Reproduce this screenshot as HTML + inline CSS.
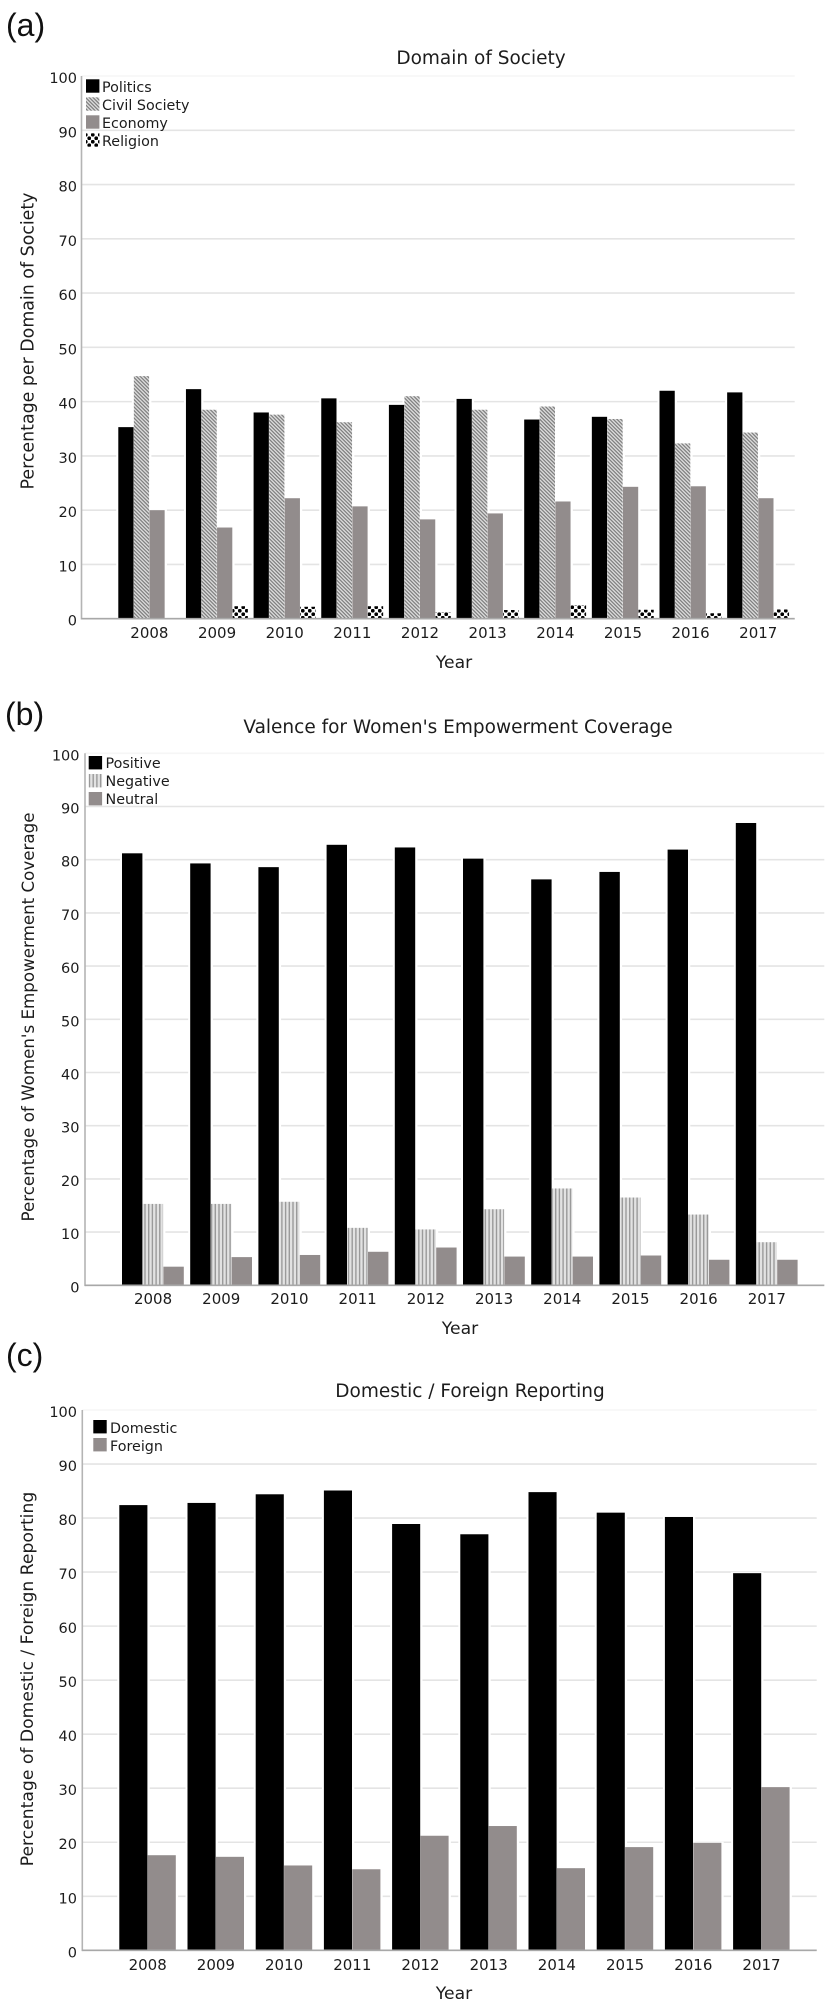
<!DOCTYPE html>
<html lang="en">
<head>
<meta charset="utf-8">
<title>Women's Empowerment Coverage Charts</title>
<style>
html,body{margin:0;padding:0;background:#fff;}
#figure{display:block;width:832px;height:2008px;filter:blur(0.35px);}
text{font-family:"DejaVu Sans","Liberation Sans",sans-serif;fill:#1c1c1c;}
.panel{font-family:"Liberation Sans",sans-serif;font-size:32px;fill:#111;}
.title{font-size:18.5px;text-anchor:middle;}
.axt{font-size:17.2px;text-anchor:middle;}
.leg{font-size:14.3px;}
.tick{font-size:14.5px;}
.xtick{font-size:15px;}
</style>
</head>
<body>
<svg id="figure" xmlns="http://www.w3.org/2000/svg" width="832" height="2008" viewBox="0 0 832 2008">
<defs>
<pattern id="hatch" width="2.6" height="2.6" patternUnits="userSpaceOnUse" patternTransform="rotate(45)">
<rect width="2.6" height="2.6" fill="#dcdcdc"/><rect width="2.6" height="1.2" fill="#7c7c7c"/>
</pattern>
<pattern id="vstripe" width="3.7" height="4" patternUnits="userSpaceOnUse">
<rect width="3.7" height="4" fill="#e2e2e2"/><rect width="1.4" height="4" fill="#9a9a9a"/>
</pattern>
<pattern id="check" width="7" height="7" patternUnits="userSpaceOnUse">
<rect width="7" height="7" fill="#fff"/><circle cx="1.75" cy="1.75" r="1.9" fill="#000"/><circle cx="5.25" cy="5.25" r="1.9" fill="#000"/>
</pattern>
</defs>

<g id="chart-a">
<text class="panel" x="6" y="36">(a)</text>
<text class="title" x="481" y="64">Domain of Society</text>
<text class="axt" style="font-size:17.4px" transform="translate(33.5,341) rotate(-90)">Percentage per Domain of Society</text>
<text class="axt" x="454" y="668">Year</text>
<g id="plot-a"></g>
<g>
<rect x="86" y="79.3" width="13.4" height="13.4" fill="#000"/>
<text class="leg" x="102" y="92">Politics</text>
<rect x="86" y="97.3" width="13.4" height="13.4" fill="url(#hatch)"/>
<text class="leg" x="102" y="110">Civil Society</text>
<rect x="86" y="115.3" width="13.4" height="13.4" fill="#928c8c"/>
<text class="leg" x="102" y="128">Economy</text>
<rect x="86" y="133.3" width="13.4" height="13.4" fill="url(#check)"/>
<text class="leg" x="102" y="146">Religion</text>
</g>
</g>

<g id="chart-b">
<text class="panel" x="5" y="725">(b)</text>
<text class="title" x="458" y="733">Valence for Women's Empowerment Coverage</text>
<text class="axt" style="font-size:16.7px" transform="translate(34,1017) rotate(-90)">Percentage of Women's Empowerment Coverage</text>
<text class="axt" x="460" y="1334">Year</text>
<g id="plot-b"></g>
<g>
<rect x="88.7" y="756" width="13.4" height="13.4" fill="#000"/>
<text class="leg" x="105.5" y="768">Positive</text>
<rect x="88.7" y="774" width="13.4" height="13.4" fill="url(#vstripe)"/>
<text class="leg" x="105.5" y="786">Negative</text>
<rect x="88.7" y="792" width="13.4" height="13.4" fill="#928c8c"/>
<text class="leg" x="105.5" y="804">Neutral</text>
</g>
</g>

<g id="chart-c">
<text class="panel" x="6" y="1366">(c)</text>
<text class="title" x="470" y="1397">Domestic / Foreign Reporting</text>
<text class="axt" transform="translate(33,1679) rotate(-90)">Percentage of Domestic / Foreign Reporting</text>
<text class="axt" x="454" y="1999">Year</text>
<g id="plot-c"></g>
<g>
<rect x="93.3" y="1420" width="13.4" height="13.4" fill="#000"/>
<text class="leg" x="110" y="1433">Domestic</text>
<rect x="93.3" y="1438" width="13.4" height="13.4" fill="#928c8c"/>
<text class="leg" x="110" y="1451">Foreign</text>
</g>
</g>
</svg>

<script>
const years = ['2008','2009','2010','2011','2012','2013','2014','2015','2016','2017'];
const yTicks = [0,10,20,30,40,50,60,70,80,90,100];

const politics = [35.3,42.3,38.0,40.6,39.4,40.5,36.7,37.2,42.0,41.7];
const civilSociety = [44.7,38.5,37.6,36.2,41.0,38.5,39.1,36.8,32.3,34.3];
const economy = [20.0,16.8,22.2,20.7,18.3,19.4,21.6,24.3,24.4,22.2];
const religion = [0,2.3,2.2,2.3,1.2,1.6,2.5,1.65,1.0,1.7];

const positive = [81.2,79.3,78.6,82.8,82.3,80.2,76.3,77.7,81.9,86.9];
const negative = [15.3,15.3,15.7,10.8,10.5,14.3,18.2,16.5,13.3,8.1];
const neutral = [3.5,5.3,5.7,6.3,7.1,5.4,5.4,5.6,4.8,4.8];

const domestic = [82.4,82.8,84.4,85.1,78.9,77.0,84.8,81.0,80.2,69.8];
const foreign = [17.6,17.3,15.7,15.0,21.2,23.0,15.2,19.1,19.9,30.2];

const NS = 'http://www.w3.org/2000/svg';

function shape(parent, tag, attrs) {
  const el = document.createElementNS(NS, tag);
  for (const k in attrs) el.setAttribute(k, attrs[k]);
  parent.appendChild(el);
  return el;
}

function drawChart(geom) {
  const plot = document.getElementById(geom.id);
  const yScale = v => geom.y0 + (geom.y100 - geom.y0) * v / 100;
  const xScale = i => geom.firstBar + geom.step * i;

  yTicks.forEach(t => {
    const line = shape(plot, 'line', {
      x1: geom.axisX, x2: geom.right, y1: yScale(t), y2: yScale(t),
      stroke: t === 100 ? '#f6f6f6' : '#e4e4e4', 'stroke-width': 1.6
    });
    
    
    const label = shape(plot, 'text', {
      x: geom.tickRight, y: yScale(t) + 7, 'text-anchor': 'end', class: 'tick'
    });
    label.textContent = t;
    
    
  });

  years.forEach((year, i) => {
    geom.series.forEach((s, j) => {
      const v = s.values[i];
      if (v <= 0) return;
      shape(plot, 'rect', {
        x: xScale(i) + j * geom.slot - 2, y: yScale(v) - 1,
        width: geom.slot + 4, height: geom.y0 - yScale(v) + 1, fill: '#fff'
      });
    });
  });

  years.forEach((year, i) => {
    geom.series.forEach((s, j) => {
      const v = s.values[i];
      const bar = shape(plot, 'rect', {
        x: xScale(i) + j * geom.slot, y: yScale(v),
        width: geom.slot - 0.3, height: geom.y0 - yScale(v), fill: s.fill
      });
      
      
    });
    const label = shape(plot, 'text', {
      x: xScale(i) + geom.slot * geom.series.length / 2,
      y: geom.tickBase, 'text-anchor': 'middle', class: 'xtick'
    });
    label.textContent = year;
    
    
  });

  const yAxis = shape(plot, 'line', {
    x1: geom.axisX, x2: geom.axisX, y1: yScale(100), y2: geom.y0 + 0.8,
    stroke: '#b4b4b4', 'stroke-width': 1.6
  });
  
  
  const xAxis = shape(plot, 'line', {
    x1: geom.axisX, x2: geom.right, y1: geom.y0, y2: geom.y0,
    stroke: '#a8a8a8', 'stroke-width': 1.6
  });
  
  
}

drawChart({
  id: 'plot-a', axisX: 81.5, right: 794.7, y0: 618.7, y100: 76,
  firstBar: 118.3, step: 67.65, slot: 15.55, tickRight: 77, tickBase: 638,
  series: [
    {name: 'politics', values: politics, fill: '#000'},
    {name: 'civil-society', values: civilSociety, fill: 'url(#hatch)'},
    {name: 'economy', values: economy, fill: '#928c8c'},
    {name: 'religion', values: religion, fill: 'url(#check)'}
  ]
});
drawChart({
  id: 'plot-b', axisX: 85, right: 824.3, y0: 1285.3, y100: 753.3,
  firstBar: 122, step: 68.2, slot: 20.7, tickRight: 79.5, tickBase: 1304,
  series: [
    {name: 'positive', values: positive, fill: '#000'},
    {name: 'negative', values: negative, fill: 'url(#vstripe)'},
    {name: 'neutral', values: neutral, fill: '#928c8c'}
  ]
});
drawChart({
  id: 'plot-c', axisX: 82.3, right: 816.7, y0: 1950.3, y100: 1410,
  firstBar: 119.3, step: 68.2, slot: 28.4, tickRight: 77, tickBase: 1970,
  series: [
    {name: 'domestic', values: domestic, fill: '#000'},
    {name: 'foreign', values: foreign, fill: '#928c8c'}
  ]
});
</script>
</body>
</html>
